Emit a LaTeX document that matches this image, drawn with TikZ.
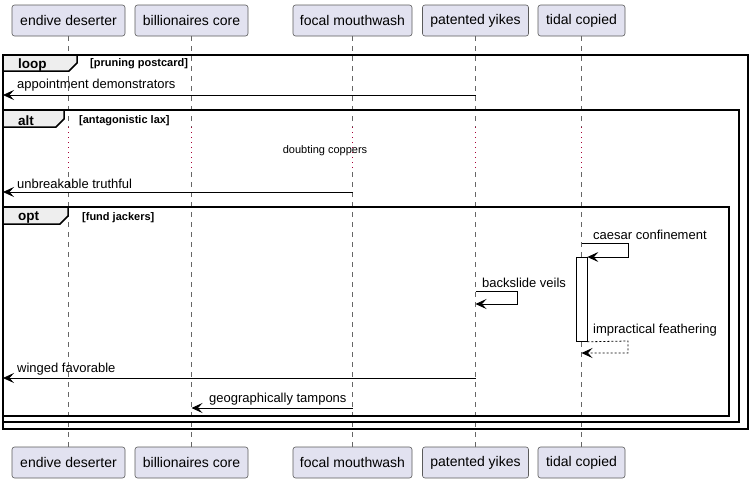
\documentclass[tikz,border=0pt]{standalone}
\usepackage{fontspec}
\setmainfont{Liberation Sans}
\usetikzlibrary{arrows.meta}
\definecolor{partfill}{HTML}{E2E2F0}
\definecolor{partdraw}{HTML}{5A5A5A}
\definecolor{lifegray}{HTML}{666666}
\definecolor{delayred}{HTML}{A80036}
\definecolor{tabfill}{HTML}{EEEEEE}
\tikzset{
  part/.style={draw=partdraw, fill=partfill, rounded corners=2.5pt, minimum height=31pt, inner sep=0pt, font=\fontsize{14}{16}\selectfont, line width=0.6pt},
  lifeline/.style={draw=lifegray, dash pattern=on 5pt off 5pt, line width=0.6pt},
  delayline/.style={draw=delayred, dash pattern=on 1pt off 4pt, line width=0.8pt},
  frm/.style={draw=black, line width=1.5pt},
  tabshape/.style={draw=black, fill=tabfill, line width=1.5pt},
  tabtext/.style={font=\fontsize{13.5}{15}\selectfont\bfseries, anchor=west, inner sep=0pt},
  guard/.style={font=\fontsize{11}{13}\selectfont\bfseries, anchor=west, inner sep=0pt},
  msgtext/.style={font=\fontsize{13}{15}\selectfont, anchor=west, inner sep=0pt},
  msg/.style={draw=black, line width=0.8pt, -{Stealth[length=11pt,width=10pt,inset=4.5pt]}},
  retmsg/.style={msg, dash pattern=on 2pt off 2pt},
  actbox/.style={draw=black, fill=white, line width=0.8pt, minimum width=11pt, minimum height=84pt, inner sep=0pt, anchor=north}
}
\begin{document}
\begin{tikzpicture}[x=1pt,y=-1pt]
\useasboundingbox (0,0) rectangle (753,483);
% participants
\node[part, minimum width=113pt] (a) at (68.5,20.5) {endive deserter};
\node[part, minimum width=113pt] (b) at (191.5,20.5) {billionaires core};
\node[part, minimum width=119pt] (c) at (352.5,20.5) {focal mouthwash};
\node[part, minimum width=106pt] (d) at (475.5,20.5) {patented yikes};
\node[part, minimum width=87pt] (e) at (581.5,20.5) {tidal copied};
\node[part, minimum width=113pt] (a2) at (68.5,462.5) {endive deserter};
\node[part, minimum width=113pt] (b2) at (191.5,462.5) {billionaires core};
\node[part, minimum width=119pt] (c2) at (352.5,462.5) {focal mouthwash};
\node[part, minimum width=106pt] (d2) at (475.5,462.5) {patented yikes};
\node[part, minimum width=87pt] (e2) at (581.5,462.5) {tidal copied};
% delay limits
\coordinate (dA) at (0,127);
\coordinate (dB) at (0,172);
\foreach \p in {a,b,c,d,e}{
  \draw[lifeline] (\p.south) -- (\p.south |- dA);
  \draw[delayline] (\p.south |- dA) -- (\p.south |- dB);
  \draw[lifeline] (\p.south |- dB) -- (\p2.north);
}
% frames
\draw[frm] (3,55) rectangle (748,429);
\draw[tabshape] (3,55) -- (77,55) -- (77,63) -- (69,71) -- (3,71) -- cycle;
\node[tabtext] (tloop) at (18,65) {loop};
\node[guard] (gloop) at (90,64) {[pruning postcard]};

\draw[frm] (3,110) rectangle (739,422);
\draw[tabshape] (3,110) -- (64,110) -- (64,119) -- (56,127) -- (3,127) -- cycle;
\node[tabtext] (talt) at (18,120.5) {alt};
\node[guard] (galt) at (79,121) {[antagonistic lax]};

\draw[frm] (3,207) rectangle (729,416);
\draw[tabshape] (3,207) -- (68,207) -- (68,216) -- (60,224) -- (3,224) -- cycle;
\node[tabtext] (topt) at (18,217) {opt};
\node[guard] (gopt) at (82,218) {[fund jackers]};

% messages
\coordinate (m1s) at (475.5,95);
\coordinate (m1e) at (3,95);
\draw[msg] (m1s) -- (m1e);
\node[msgtext] (t1) at (17,85.5) {appointment demonstrators};

\node[font=\fontsize{11}{13}\selectfont, inner sep=0pt] (delay) at (325,151) {doubting coppers};

\coordinate (m2s) at (352.5,192);
\coordinate (m2e) at (3,192);
\draw[msg] (m2s) -- (m2e);
\node[msgtext] (t2) at (17,183.5) {unbreakable truthful};

% activation
\node[actbox] (act) at (581.5,257) {};
\coordinate (m3s) at (581.5,243);
\draw[msg] (m3s) -- (628,243) -- (628,257) -- (act.north east);
\node[msgtext] (t3) at (593,234.5) {caesar confinement};

\coordinate (m4s) at (475.5,291);
\coordinate (m4e) at (475.5,304);
\draw[msg] (m4s) -- (517,291) -- (517,304) -- (m4e);
\node[msgtext] (t4) at (482,282.5) {backslide veils};

\coordinate (m5e) at (581.5,353);
\draw[retmsg] (act.south east) -- (628,341) -- (628,353) -- (m5e);
\node[msgtext] (t5) at (593,330.5) {impractical feathering};

\coordinate (m6s) at (475.5,378);
\coordinate (m6e) at (3,378);
\draw[msg] (m6s) -- (m6e);
\node[msgtext] (t6) at (17,369.5) {winged favorable};

\coordinate (m7s) at (352.5,408);
\coordinate (m7e) at (191.5,408);
\draw[msg] (m7s) -- (m7e);
\node[msgtext] (t7) at (209,399.5) {geographically tampons};
\end{tikzpicture}
\end{document}
